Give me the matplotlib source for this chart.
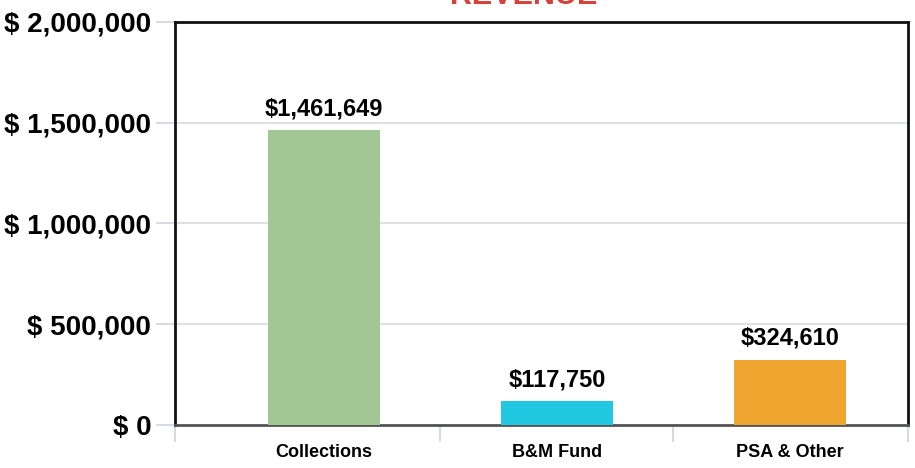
import matplotlib.pyplot as plt
from matplotlib.ticker import FuncFormatter

# datos del gráfico
categories = ['Collections', 'B&M Fund', 'PSA & Other']
revenue = [1461649, 117750, 324610]
bar_colors = ['#A2C794', '#22C8E2', '#F0A530']
y_ticks = [0, 500000, 1000000, 1500000, 2000000]

plt.rcParams['font.family'] = ['Liberation Sans', 'DejaVu Sans']

fig = plt.figure(figsize=(9.15, 4.68), dpi=100)
ax = fig.add_axes([0.191, 0.092, 0.801, 0.861])

x = range(len(categories))
ax.bar(x, revenue, width=0.48, color=bar_colors, zorder=3)

# etiquetas de valor encima de cada barra
for xi, v in zip(x, revenue):
    ax.annotate(f'${v:,}', (xi, v), xytext=(0, 7), textcoords='offset points',
                ha='center', va='bottom', fontsize=17, fontweight='bold')

ax.set_xlim(-0.64, 2.505)
ax.set_ylim(0, 2000000)
ax.set_yticks(y_ticks)
ax.yaxis.set_major_formatter(FuncFormatter(lambda v, p: f'$ {int(v):,}'))
ax.tick_params(axis='y', labelsize=20, length=14, color='#D5DCE4', width=1.5, pad=3)
for lbl in ax.get_yticklabels():
    lbl.set_fontweight('bold')
ax.grid(axis='y', color='#DCE1E6', linewidth=1.5, zorder=0)

# categorías y separadores del eje x
ax.set_xticks(list(x))
ax.set_xticklabels(categories, fontsize=13, fontweight='bold')
ax.tick_params(axis='x', length=0, pad=14)
ax.set_xticks([-0.64, 0.5, 1.5, 2.505], minor=True)
ax.tick_params(axis='x', which='minor', length=12, color='#C9D3DD', width=1.2)

for side in ['left', 'top', 'right']:
    ax.spines[side].set_color('#111111')
    ax.spines[side].set_linewidth(2)
ax.spines['bottom'].set_color('#555555')
ax.spines['bottom'].set_linewidth(2)

# título cortado en la parte superior, como en el original
fig.text(0.572, 0.992, 'REVENUE', ha='center', va='baseline', fontsize=22,
         fontweight='bold', color='#D9403A')

fig.savefig('out.png', dpi=100)
